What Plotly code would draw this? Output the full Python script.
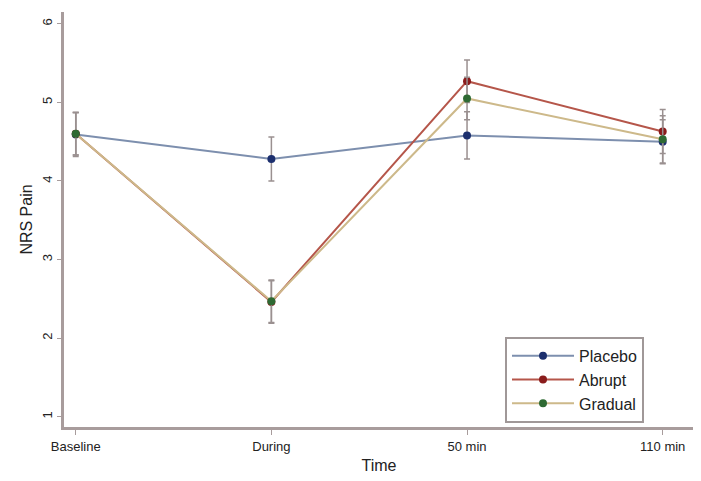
import plotly.graph_objects as go

categories = ["Baseline", "During", "50 min", "110 min"]
x_pos = [0, 1, 2, 3]

placebo = [4.59, 4.28, 4.58, 4.50]
placebo_err = [0.28, 0.28, 0.30, 0.28]
abrupt = [4.60, 2.46, 5.27, 4.63]
abrupt_err = [0.27, 0.27, 0.27, 0.28]
gradual = [4.60, 2.47, 5.05, 4.53]
gradual_err = [0.27, 0.27, 0.27, 0.30]

y_ticks = [1, 2, 3, 4, 5, 6]

series = [
    ("Placebo", placebo, placebo_err, "#7d8fae", "#1c2f6e"),
    ("Abrupt", abrupt, abrupt_err, "#b5564a", "#8a1c1c"),
    ("Gradual", gradual, gradual_err, "#cdb98a", "#2e6a33"),
]

fig = go.Figure()
for name, vals, err, lcol, mcol in series:
    fig.add_trace(go.Scatter(
        x=x_pos, y=vals, name=name, mode="lines+markers",
        line=dict(color=lcol, width=2),
        marker=dict(color=mcol, size=8),
        error_y=dict(type="data", array=err, visible=True,
                     color="#9a9090", thickness=1.5, width=3),
    ))

fig.update_layout(
    width=701, height=481,
    margin=dict(l=56, r=15, t=4, b=62),
    paper_bgcolor="white", plot_bgcolor="white",
    font=dict(family="Liberation Sans, Arial, sans-serif", size=13, color="#222"),
    legend=dict(x=0.70, y=0.01, xanchor="left", yanchor="bottom",
                bordercolor="#a09898", borderwidth=2, bgcolor="white",
                itemwidth=62, font=dict(size=16)),
    xaxis=dict(range=[-0.06, 3.16], tickvals=x_pos, ticktext=categories,
               showgrid=False, zeroline=False, showline=True, linecolor="#a89c9c",
               linewidth=3, ticks="outside", ticklen=5, tickcolor="#a89c9c",
               title=dict(text="Time", standoff=8)),
    yaxis=dict(range=[0.87, 6.15], tickvals=y_ticks, showgrid=False, zeroline=False,
               showline=True, linecolor="#a89c9c", linewidth=3, ticks="outside",
               ticklen=4, tickcolor="#a89c9c", tickangle=-90,
               title=dict(text="NRS Pain", standoff=4)),
)

fig.write_html("out.html")
